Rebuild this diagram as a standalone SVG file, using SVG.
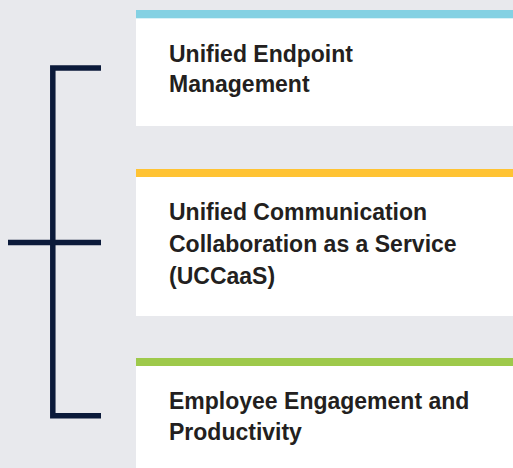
<svg xmlns="http://www.w3.org/2000/svg" width="513" height="468" viewBox="0 0 513 468">
<style>
.card{fill:#ffffff}
.lbl{font-family:"Liberation Sans",Arial,sans-serif;font-weight:bold;font-size:23px;fill:#231f20}
.br{stroke:#0b1a3a;stroke-width:5.5;fill:none}
</style>
<rect width="513" height="468" fill="#e8e9ed"/>
<g id="connectors">
<path class="br" d="M101 68 H52.8 V415.7 H101"/>
<path class="br" d="M8 242.5 H101"/>
</g>
<g id="node-uem">
<rect class="card" x="136" y="10" width="377" height="116"/>
<rect x="136" y="10" width="377" height="8.3" fill="#84d1e3"/>
<text class="lbl" x="169" y="62">Unified Endpoint</text>
<text class="lbl" x="169" y="92">Management</text>
</g>
<g id="node-uccaas">
<rect class="card" x="136" y="169" width="377" height="147"/>
<rect x="136" y="169" width="377" height="8" fill="#ffc333"/>
<text class="lbl" x="169" y="220">Unified Communication</text>
<text class="lbl" x="169" y="252">Collaboration as a Service</text>
<text class="lbl" x="169" y="284">(UCCaaS)</text>
</g>
<g id="node-eep">
<rect class="card" x="136" y="358" width="377" height="110"/>
<rect x="136" y="358" width="377" height="8" fill="#9ec94b"/>
<text class="lbl" x="169" y="409">Employee Engagement and</text>
<text class="lbl" x="169" y="440">Productivity</text>
</g>
</svg>
